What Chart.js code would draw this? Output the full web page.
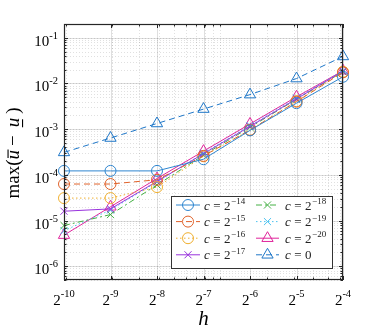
<!DOCTYPE html>
<html>
<head>
<meta charset="utf-8">
<script src="https://cdn.jsdelivr.net/npm/chart.js@4.4.1/dist/chart.umd.min.js"></script>
<style>
  html, body { margin: 0; padding: 0; background: #fff; }
</style>
</head>
<body>
<canvas id="chart" width="379" height="332"></canvas>
<script>
// Step sizes h = 2^k and y decades
const hExponents = [-10, -9, -8, -7, -6, -5, -4];
const yTickExponents = [-6, -5, -4, -3, -2, -1];

// Legend labels (exponent of c, '' means c = 0)
const cExponents = ['-14', '-15', '-16', '-17', '-18', '-19', '-20', ''];

// max(ubar - u) for each c
const errC14 = [1.22e-4, 1.22e-4, 1.22e-4, 2.2e-4, 9.4e-4, 3.7e-3, 1.4e-2];
const errC15 = [6.3e-5, 6.3e-5, 7.8e-5, 2.6e-4, 9.6e-4, 4.0e-3, 1.75e-2];
const errC16 = [3.1e-5, 3.1e-5, 5.4e-5, 2.55e-4, 9.6e-4, 4.1e-3, 1.8e-2];
const errC17 = [1.6e-5, 1.8e-5, 7.2e-5, 2.9e-4, 1.15e-3, 4.6e-3, 1.85e-2];
const errC18 = [7.8e-6, 1.35e-5, 6.0e-5, 2.7e-4, 1.1e-3, 4.5e-3, 1.8e-2];
const errC19 = [6.0e-6, 1.7e-5, 7.0e-5, 3.0e-4, 1.2e-3, 4.8e-3, 1.9e-2];
const errC20 = [4.8e-6, 2.0e-5, 8.3e-5, 3.3e-4, 1.3e-3, 5.1e-3, 1.9e-2];
const errC0  = [3.1e-4, 6.4e-4, 1.33e-3, 2.75e-3, 5.7e-3, 1.28e-2, 3.9e-2];

const hValues = hExponents.map(e => Math.pow(2, e));
const X_MIN = Math.pow(2, -10), X_MAX = Math.pow(2, -4);
const Y_MIN = 5e-7, Y_MAX = 0.2;

const SERIF = '"Liberation Serif", "DejaVu Serif", serif';
const AXIS = '#262626';

// series styling
const styles = [
    { data: errC14, color: '#2f86d0', dash: [],           point: 'circle',   r: 5.5 },
    { data: errC15, color: '#e0622a', dash: [6, 4],       point: 'circle',   r: 5.5 },
    { data: errC16, color: '#f0b030', dash: [1.5, 2.5],   point: 'circle',   r: 5.5 },
    { data: errC17, color: '#9933dd', dash: [],           point: 'crossRot', r: 5 },
    { data: errC18, color: '#44b044', dash: [6, 3, 2, 3], point: 'crossRot', r: 5 },
    { data: errC19, color: '#4dc3f0', dash: [1.5, 2.5],   point: 'crossRot', r: 5 },
    { data: errC20, color: '#e0239b', dash: [],           point: 'triangle', r: 6.5 },
    { data: errC0,  color: '#1f77c8', dash: [6, 4],       point: 'triangle', r: 6.5 }
];

const datasets = styles.map((s, i) => ({
    label: 'c=' + cExponents[i],
    data: s.data.map((v, j) => ({ x: hValues[j], y: v })),
    borderColor: s.color,
    borderWidth: 1,
    borderDash: s.dash,
    pointStyle: s.point,
    pointRadius: s.r,
    pointBorderColor: s.color,
    pointBackgroundColor: 'rgba(0,0,0,0)',
    pointBorderWidth: 1,
    tension: 0,
    fill: false,
    clip: false
}));

// minor grid values (MATLAB style 1..9 x 10^k)
function minorValues(min, max) {
    const out = [];
    for (let k = -8; k <= 1; k++) {
        for (let m = 1; m <= 9; m++) {
            const v = m * Math.pow(10, k);
            if (v >= min * 0.9999 && v <= max * 1.0001) out.push(v);
        }
    }
    return out;
}

function drawPow(ctx, base, exp, x, y, baseSize, expSize, align, raise) {
    ctx.font = baseSize + 'px ' + SERIF;
    const wb = ctx.measureText(base).width;
    ctx.font = expSize + 'px ' + SERIF;
    const we = ctx.measureText(exp).width;
    const x0 = align === 'right' ? x - wb - we : x - (wb + we) / 2;
    ctx.textAlign = 'left';
    ctx.textBaseline = 'alphabetic';
    ctx.font = baseSize + 'px ' + SERIF;
    ctx.fillText(base, x0, y);
    ctx.font = expSize + 'px ' + SERIF;
    ctx.fillText(exp, x0 + wb, y - raise);
}

function drawMarker(ctx, style, x, y, r) {
    ctx.beginPath();
    if (style === 'circle') {
        ctx.arc(x, y, r, 0, Math.PI * 2);
    } else if (style === 'crossRot') {
        const d = r * Math.SQRT1_2;
        ctx.moveTo(x - d, y - d); ctx.lineTo(x + d, y + d);
        ctx.moveTo(x - d, y + d); ctx.lineTo(x + d, y - d);
    } else if (style === 'triangle') {
        for (let i = 0; i < 3; i++) {
            const a = i * 2 * Math.PI / 3;
            const px = x + Math.sin(a) * r, py = y - Math.cos(a) * r;
            if (i === 0) ctx.moveTo(px, py); else ctx.lineTo(px, py);
        }
        ctx.closePath();
    }
    ctx.stroke();
}

const gridPlugin = {
    id: 'matlabGrid',
    beforeDatasetsDraw(chart) {
        const { ctx, chartArea: a, scales: { x, y } } = chart;
        ctx.save();
        ctx.lineWidth = 1;
        // minor dotted grid
        ctx.strokeStyle = 'rgba(38,38,38,0.14)';
        ctx.setLineDash([1, 2]);
        minorValues(X_MIN, X_MAX).forEach(v => {
            const px = Math.round(x.getPixelForValue(v)) + 0.5;
            ctx.beginPath(); ctx.moveTo(px, a.top); ctx.lineTo(px, a.bottom); ctx.stroke();
        });
        minorValues(Y_MIN, Y_MAX).forEach(v => {
            const py = Math.round(y.getPixelForValue(v)) + 0.5;
            ctx.beginPath(); ctx.moveTo(a.left, py); ctx.lineTo(a.right, py); ctx.stroke();
        });
        // major grid
        ctx.setLineDash([]);
        ctx.strokeStyle = 'rgba(38,38,38,0.15)';
        hValues.forEach(v => {
            const px = Math.round(x.getPixelForValue(v)) + 0.5;
            ctx.beginPath(); ctx.moveTo(px, a.top); ctx.lineTo(px, a.bottom); ctx.stroke();
        });
        yTickExponents.forEach(e => {
            const py = Math.round(y.getPixelForValue(Math.pow(10, e))) + 0.5;
            ctx.beginPath(); ctx.moveTo(a.left, py); ctx.lineTo(a.right, py); ctx.stroke();
        });
        ctx.restore();
    },
    afterDatasetsDraw(chart) {
        const { ctx, chartArea: a, scales: { x, y } } = chart;
        ctx.save();
        ctx.strokeStyle = AXIS;
        ctx.lineWidth = 1;
        ctx.setLineDash([]);

        // inward ticks on all sides
        const tick = (px, py, dx, dy) => {
            ctx.beginPath(); ctx.moveTo(px, py); ctx.lineTo(px + dx, py + dy); ctx.stroke();
        };
        minorValues(X_MIN, X_MAX).forEach(v => {
            const px = Math.round(x.getPixelForValue(v)) + 0.5;
            tick(px, a.bottom, 0, -2.5); tick(px, a.top, 0, 2.5);
        });
        hValues.forEach(v => {
            const px = Math.round(x.getPixelForValue(v)) + 0.5;
            tick(px, a.bottom, 0, -4); tick(px, a.top, 0, 4);
        });
        minorValues(Y_MIN, Y_MAX).forEach(v => {
            const py = Math.round(y.getPixelForValue(v)) + 0.5;
            tick(a.left, py, 2.5, 0); tick(a.right, py, -2.5, 0);
        });
        yTickExponents.forEach(e => {
            const py = Math.round(y.getPixelForValue(Math.pow(10, e))) + 0.5;
            tick(a.left, py, 4, 0); tick(a.right, py, -4, 0);
        });

        // box
        ctx.lineWidth = 1.2;
        ctx.strokeRect(a.left + 0.5, a.top + 0.5, a.right - a.left - 1, a.bottom - a.top - 1);

        // tick labels
        ctx.fillStyle = '#000';
        hExponents.forEach((e, i) => {
            const px = x.getPixelForValue(hValues[i]);
            drawPow(ctx, '2', '-' + Math.abs(e), px, a.bottom + 25, 15, 10.5, 'center', 8);
        });
        yTickExponents.forEach(e => {
            const py = y.getPixelForValue(Math.pow(10, e));
            drawPow(ctx, '10', '-' + Math.abs(e), a.left - 6, py + 8, 15, 10.5, 'right', 7);
        });

        // x title
        ctx.font = 'italic 21px ' + SERIF;
        ctx.textAlign = 'center';
        ctx.fillText('h', (a.left + a.right) / 2, 325);

        // y title: max(ū − u̲)
        ctx.save();
        ctx.translate(19, (a.top + a.bottom) / 2 + 1);
        ctx.rotate(-Math.PI / 2);
        ctx.textAlign = 'left';
        const fs = 19;
        const roman = fs + 'px ' + SERIF, ital = 'italic ' + fs + 'px ' + SERIF;
        const parts = [
            { t: 'max(', f: roman, gap: 0 },
            { t: 'u', f: ital, gap: 0, over: true },
            { t: '\u2212', f: roman, gap: 4 },
            { t: 'u', f: ital, gap: 4, under: true },
            { t: ')', f: roman, gap: 0 }
        ];
        let total = 0;
        parts.forEach(p => { ctx.font = p.f; p.w = ctx.measureText(p.t).width; total += p.w + p.gap * 2; });
        let cx = -total / 2;
        parts.forEach(p => {
            cx += p.gap;
            ctx.font = p.f;
            ctx.fillText(p.t, cx, 0);
            if (p.over) { ctx.fillRect(cx + 1.5, -11.5, p.w - 1, 1.1); }
            if (p.under) { ctx.fillRect(cx, 3, p.w - 1.5, 1.1); }
            cx += p.w + p.gap;
        });
        ctx.restore();

        // legend
        const lx = 171, ly = 196, lw = 161, lh = 72;
        ctx.fillStyle = '#fff';
        ctx.fillRect(lx, ly, lw, lh);
        ctx.strokeStyle = '#333';
        ctx.lineWidth = 1;
        ctx.strokeRect(lx + 0.5, ly + 0.5, lw, lh);
        const cols = [{ l0: 176, l1: 200, tx: 204 }, { l0: 256, l1: 279, tx: 285 }];
        styles.forEach((s, i) => {
            const col = cols[Math.floor(i / 4)];
            const ry = 205 + (i % 4) * 16.6;
            ctx.strokeStyle = s.color;
            ctx.lineWidth = 1;
            ctx.setLineDash(s.dash);
            ctx.beginPath(); ctx.moveTo(col.l0, ry); ctx.lineTo(col.l1, ry); ctx.stroke();
            ctx.setLineDash([]);
            drawMarker(ctx, s.point, (col.l0 + col.l1) / 2, ry, s.r);
            // text
            ctx.fillStyle = '#222';
            ctx.textAlign = 'left';
            let tx = col.tx;
            const by = ry + 4.5;
            ctx.font = 'italic 13px ' + SERIF;
            ctx.fillText('c', tx, by);
            tx += ctx.measureText('c').width + 3.5;
            ctx.font = '13px ' + SERIF;
            ctx.fillText('=', tx, by);
            tx += ctx.measureText('=').width + 3.5;
            if (cExponents[i] === '') {
                ctx.fillText('0', tx, by);
            } else {
                ctx.fillText('2', tx, by);
                tx += ctx.measureText('2').width + 0.5;
                ctx.font = '9px ' + SERIF;
                ctx.fillText('\u2212' + cExponents[i].slice(1), tx, by - 5.5);
            }
        });
        ctx.restore();
    }
};

new Chart(document.getElementById('chart').getContext('2d'), {
    type: 'line',
    data: { datasets },
    plugins: [gridPlugin],
    options: {
        responsive: false,
        animation: false,
        layout: { padding: { left: 0, top: 24, right: 36, bottom: 0 } },
        plugins: { legend: { display: false }, tooltip: { enabled: false } },
        scales: {
            x: {
                type: 'logarithmic',
                min: X_MIN,
                max: X_MAX,
                grid: { display: false },
                border: { display: false },
                ticks: { display: false },
                afterBuildTicks: scale => { scale.ticks = hValues.map(v => ({ value: v })); },
                afterFit: scale => { scale.height = 52; }
            },
            y: {
                type: 'logarithmic',
                min: Y_MIN,
                max: Y_MAX,
                grid: { display: false },
                border: { display: false },
                ticks: { display: false },
                afterBuildTicks: scale => { scale.ticks = yTickExponents.map(e => ({ value: Math.pow(10, e) })); },
                afterFit: scale => { scale.width = 64; }
            }
        }
    }
});
</script>
</body>
</html>
